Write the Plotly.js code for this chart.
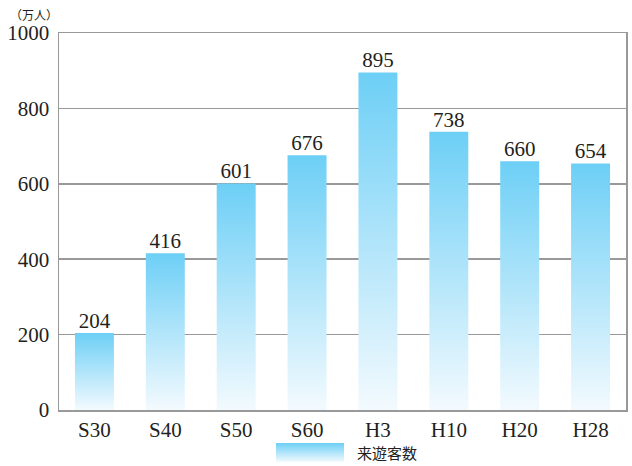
<!DOCTYPE html>
<html>
<head>
<meta charset="utf-8">
<script src="https://cdn.plot.ly/plotly-3.0.1.min.js"></script>
<style>html,body{margin:0;padding:0;background:#fff;}#chart{width:632px;height:466px;}</style>
</head>
<body>
<div id="chart"></div>
<script>
const categories = ["S30", "S40", "S50", "S60", "H3", "H10", "H20", "H28"];
const visitors = [204, 416, 601, 676, 895, 738, 660, 654];
const seriesName = "来遊客数";
const unitLabel = "（万人）";
const yTicks = [0, 200, 400, 600, 800, 1000];

const W = 632, H = 466;
const plotL = 59, plotR = 626, plotT = 33, plotB = 410;
const halfW = 0.275;
const topColor = "#6dcff6";
const botColor = "#f3fafe";
const grad = {type: "vertical", colorscale: [[0, botColor], [1, topColor]]};
const serif = "Liberation Serif";
const cjk = "Noto Sans CJK JP";

const traces = [];
categories.forEach((c, i) => {
  const v = visitors[i];
  traces.push({
    type: "scatter", mode: "lines",
    x: [i - halfW, i - halfW, i + halfW, i + halfW, i - halfW],
    y: [0, v, v, 0, 0],
    fill: "toself", fillcolor: topColor, fillgradient: grad,
    line: {width: 0, color: "rgba(0,0,0,0)"},
    hoverinfo: "skip", showlegend: false
  });
});
traces.push({
  type: "scatter", mode: "text",
  x: categories.map((c, i) => i), y: visitors,
  text: visitors.map(String), textposition: "top center",
  textfont: {family: serif, size: 21, color: "#231f20"},
  showlegend: false, hoverinfo: "skip", cliponaxis: false
});
// legend swatch
traces.push({
  type: "scatter", mode: "lines",
  x: [0, 0, 1, 1, 0], y: [0, 1, 1, 0, 0],
  xaxis: "x2", yaxis: "y2",
  fill: "toself", fillcolor: topColor, fillgradient: grad,
  line: {width: 0, color: "rgba(0,0,0,0)"},
  hoverinfo: "skip", showlegend: false
});

const layout = {
  width: W, height: H,
  margin: {l: 0, r: 0, t: 0, b: 0},
  paper_bgcolor: "#fff", plot_bgcolor: "#fff",
  showlegend: false,
  xaxis: {
    domain: [plotL / W, plotR / W],
    range: [-0.5, categories.length - 0.5],
    tickvals: categories.map((c, i) => i), ticktext: categories,
    ticks: "", showgrid: false, zeroline: false,
    showline: true, linecolor: "#999", linewidth: 1.5, mirror: true,
    tickfont: {family: serif, size: 21, color: "#231f20"},
    fixedrange: true
  },
  yaxis: {
    domain: [(H - plotB) / H, (H - plotT) / H],
    range: [0, 1000], tickvals: yTicks,
    ticks: "", showgrid: true, gridcolor: "#999", gridwidth: 1.5,
    zeroline: false, showline: true, linecolor: "#999", linewidth: 1.5, mirror: true,
    tickfont: {family: serif, size: 21, color: "#231f20"},
    ticklabelstandoff: 4,
    fixedrange: true
  },
  xaxis2: {domain: [276 / W, 344 / W], range: [0, 1], visible: false, anchor: "y2", fixedrange: true},
  yaxis2: {domain: [(H - 462) / H, (H - 443) / H], range: [0, 1], visible: false, anchor: "x2", fixedrange: true},
  annotations: [
    {text: seriesName, xref: "paper", yref: "paper", x: 355 / W, y: (H - 452) / H,
     xanchor: "left", yanchor: "middle", showarrow: false,
     font: {family: cjk, size: 15, color: "#231f20"}},
    {text: unitLabel, xref: "paper", yref: "paper", x: 8 / W, y: (H - 14) / H,
     xanchor: "left", yanchor: "middle", showarrow: false,
     font: {family: cjk, size: 12, color: "#231f20"}}
  ]
};

Plotly.newPlot("chart", traces, layout, {staticPlot: true, displayModeBar: false});
</script>
</body>
</html>
